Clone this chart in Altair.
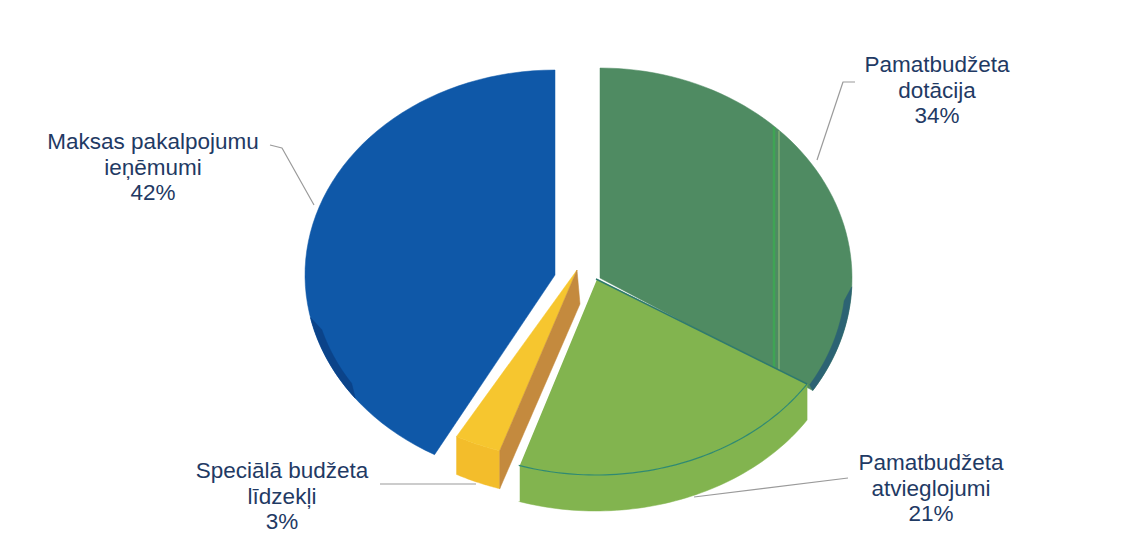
import math
import altair as alt
import pandas as pd

# --- chart values -----------------------------------------------------------
categories = ["Pamatbudžeta\ndotācija", "Pamatbudžeta\natvieglojumi",
              "Speciālā budžeta\nlīdzekļi", "Maksas pakalpojumu\nieņēmumi"]
shares = [34, 21, 3, 42]
slice_keys = ["dot", "atv", "spec", "mak"]

# --- picture styling --------------------------------------------------------
top_colors = {"dot": "#4f8b62", "atv": "#82b44f", "spec": "#f6c62f", "mak": "#0f58a8"}
# centre x, centre y, x radius, y radius, wall depth of each tilted slice
tilt = {"dot": (600, 278, 252, 210, 0), "atv": (596, 279, 250, 196, 36),
        "spec": (577, 270, 250, 190, 38), "mak": (555, 275, 250, 205, 0)}
label_xy = [(937, 65), (931, 463), (282, 471), (153, 142)]
leaders = [[(855, 82), (843, 82), (817, 160)], [(694, 497), (848, 478)],
           [(380, 484), (476, 484)], [(270, 145), (282, 148), (314, 205)]]
W, H = 1119, 543

bounds, acc = {}, 0
for key, s in zip(slice_keys, shares):
    bounds[key] = (acc * 3.6, (acc + s) * 3.6)
    acc += s


def pt(cfg, a, dy=0, k=1.0):
    cx, cy, rx, ry, _ = cfg
    t = math.radians(a)
    return (cx + k * rx * math.sin(t), cy - k * ry * math.cos(t) + dy)


def arc(cfg, a0, a1, dy=0, k=1.0, n=60):
    return [pt(cfg, a0 + (a1 - a0) * i / n, dy, k) for i in range(n + 1)]


X = alt.X("x:Q", scale=alt.Scale(domain=[8, 8 + W], nice=False, zero=False), axis=None)
Y = alt.Y("y:Q", scale=alt.Scale(domain=[8 + H, 8], nice=False, zero=False), axis=None)


def poly(points, fill=None, stroke=None, width=1.0, close=True):
    pts = list(points) + ([points[0]] if close else [])
    df = pd.DataFrame({"x": [p[0] for p in pts], "y": [p[1] for p in pts], "i": range(len(pts))})
    kw = {"strokeWidth": width, "interpolate": "linear", "strokeJoin": "round"}
    if fill:
        kw["fill"] = fill
    kw["stroke"] = stroke if stroke else (fill or "#000000")
    if not stroke:
        kw["strokeWidth"] = 0.5
    return alt.Chart(df).mark_line(**kw).encode(x=X, y=Y, order="i:Q")


layers = []

# Pamatbudžeta dotācija
c = tilt["dot"]
a0, a1 = bounds["dot"]
layers.append(poly([c[:2]] + arc(c, a0, a1), top_colors["dot"]))
layers.append(poly(arc(c, a1, a1 - 30, 0, 1.0) + arc(c, a1 - 26, a1 - 1, 0, 0.975), "#2c6373"))
layers.append(alt.Chart(pd.DataFrame({"x": [774], "y": [127], "y2": [392]})).mark_rule(
    color="#3fa454", strokeWidth=2.5).encode(x=X, y=Y, y2="y2:Q"))
layers.append(alt.Chart(pd.DataFrame({"x": [779], "y": [131], "y2": [392]})).mark_rule(
    color="#7fae76", strokeWidth=1.5).encode(x=X, y=Y, y2="y2:Q"))

# Maksas pakalpojumu ieņēmumi
c = tilt["mak"]
a0, a1 = bounds["mak"]
layers.append(poly([c[:2]] + arc(c, a0, a1), top_colors["mak"]))
layers.append(poly(arc(c, 233, 258) + arc(c, 254, 237, 0, 0.97), "#0b4389"))

# Speciālā budžeta līdzekļi
c = tilt["spec"]
a0, a1 = bounds["spec"]
d = c[4]
layers.append(poly(arc(c, a1, a0) + arc(c, a0, a1, d), "#f3bd2b"))
layers.append(poly([c[:2]] + arc(c, a0, a1), top_colors["spec"]))
layers.append(poly([c[:2], pt(c, a0), pt(c, a0, d), (c[0] + 3, c[1] + d - 4)], "#c48a3e"))

# Pamatbudžeta atvieglojumi
c = tilt["atv"]
a0, a1 = bounds["atv"]
d = c[4]
layers.append(poly(arc(c, a0, a1) + arc(c, a1, a0, d), top_colors["atv"]))
layers.append(poly([c[:2]] + arc(c, a0, a1), top_colors["atv"]))
layers.append(poly([c[:2], pt(c, a1), pt(c, a1, d)], None, "#ffffff", 2, close=False))
layers.append(poly(arc(c, a0, a1), None, "#2f8a72", 1.2, close=False))
layers.append(poly([c[:2], pt(c, a0)], None, "#2f7a6e", 1.5, close=False))

# Leader lines
for seg in leaders:
    layers.append(poly(seg, None, "#9a9a9a", 1.2, close=False))

# Labels
label_df = pd.DataFrame({
    "x": [p[0] for p in label_xy],
    "y": [p[1] for p in label_xy],
    "label": [f"{n}\n{s}%" for n, s in zip(categories, shares)],
})
layers.append(alt.Chart(label_df).mark_text(
    font="Liberation Sans", fontSize=22.5, color="#1f3a64", align="center",
    baseline="middle", lineBreak="\n", lineHeight=25.5,
).encode(x=X, y=Y, text="label:N"))

chart = alt.layer(*layers).properties(
    width=W, height=H, padding=0, autosize=alt.AutoSizeParams(type="none"),
    background="#ffffff",
).configure_view(stroke=None)

chart.save("out.html", embed_options={"renderer": "svg", "actions": False})
